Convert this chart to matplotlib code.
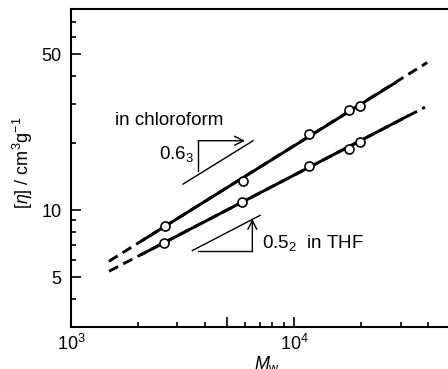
import matplotlib
matplotlib.use("Agg")
import matplotlib.pyplot as plt
from matplotlib.ticker import NullFormatter, FixedLocator, FixedFormatter

plt.rcParams['font.family'] = ['Liberation Sans', 'DejaVu Sans']
plt.rcParams['mathtext.fontset'] = 'custom'
plt.rcParams['mathtext.rm'] = 'Liberation Sans'
plt.rcParams['mathtext.it'] = 'Liberation Sans:italic'

# measured points
mw_chcl3 = [2640, 5890, 11720, 17650, 19710]
eta_chcl3 = [8.47, 13.48, 22.05, 28.25, 29.23]
mw_thf = [2610, 5870, 11720, 17650, 19710]
eta_thf = [7.13, 10.89, 15.73, 18.83, 20.16]

# fitted lines (solid over data, dashed extrapolation)
fit_chcl3_x = [2080, 28400]
fit_chcl3_y = [7.3, 37.3]
fit_thf_x = [2090, 32400]
fit_thf_y = [6.36, 26.5]
ext_chcl3_x = [1480, 39500]
ext_chcl3_y = [5.90, 46.0]
ext_thf_x = [1480, 38600]
ext_thf_y = [5.32, 29.0]

fig = plt.figure(figsize=(4.48, 3.69), dpi=100)
ax = fig.add_axes([71 / 448, 42.3 / 369, 379 / 448, 317.7 / 369])
ax.set_xscale('log')
ax.set_yscale('log')

lw = 2.1
ax.plot(ext_chcl3_x, ext_chcl3_y, color='black', lw=lw, dashes=(3.5, 2))
ax.plot(ext_thf_x, ext_thf_y, color='black', lw=lw, dashes=(3.5, 2))
ax.plot(fit_chcl3_x, fit_chcl3_y, color='black', lw=lw)
ax.plot(fit_thf_x, fit_thf_y, color='black', lw=lw)
ax.plot(mw_chcl3, eta_chcl3, 'o', ms=6.5, mfc='white', mec='black', mew=1.2, zorder=5)
ax.plot(mw_thf, eta_thf, 'o', ms=6.5, mfc='white', mec='black', mew=1.2, zorder=5)

# slope triangles
tl = 1.0
ax.plot([3180, 6550], [13.1, 20.5], color='black', lw=tl)
ax.plot([3710, 3710], [15.0, 20.5], color='black', lw=tl)
ax.annotate('', xy=(6030, 20.5), xytext=(3710, 20.5),
            arrowprops=dict(arrowstyle='->', lw=tl, color='black',
                            shrinkA=0, shrinkB=0, mutation_scale=16))
ax.plot([3500, 7040], [6.59, 9.48], color='black', lw=tl)
ax.plot([3720, 6500], [6.59, 6.59], color='black', lw=tl)
ax.annotate('', xy=(6500, 9.14), xytext=(6500, 6.59),
            arrowprops=dict(arrowstyle='->', lw=tl, color='black',
                            shrinkA=0, shrinkB=0, mutation_scale=16))

fs = 13.5
ax.text(1574, 24.2, 'in chloroform', fontsize=fs, ha='left', va='baseline')
ax.text(3562, 16.98, '0.6$_3$', fontsize=fs, ha='right', va='baseline')
ax.text(7160, 6.77, '0.5$_2$  in THF', fontsize=fs, ha='left', va='baseline')

ax.set_xlim(1e3, 5e4)
ax.set_ylim(3, 80)

ax.xaxis.set_major_locator(FixedLocator([1e3, 5e3, 1e4]))
ax.xaxis.set_major_formatter(FixedFormatter(['10$^3$', '', '10$^4$']))
ax.xaxis.set_minor_locator(FixedLocator([2e3, 3e3, 4e3, 6e3, 7e3, 8e3, 9e3, 2e4, 3e4, 4e4]))
ax.xaxis.set_minor_formatter(NullFormatter())
ax.yaxis.set_major_locator(FixedLocator([5, 10, 50]))
ax.yaxis.set_major_formatter(FixedFormatter(['5', '10', '50']))
ax.yaxis.set_minor_locator(FixedLocator([4, 6, 7, 8, 9, 20, 30, 40, 60, 70]))
ax.yaxis.set_minor_formatter(NullFormatter())

ax.tick_params(which='both', direction='in', top=False, right=False, width=1.2,
               labelsize=13, color='black')
ax.tick_params(which='major', length=7)
ax.tick_params(which='minor', length=3.6)
ax.tick_params(axis='y', which='major', pad=7)
ax.tick_params(axis='x', which='major', pad=5)
for s in ax.spines.values():
    s.set_linewidth(1.5)

ax.set_xlabel('$M_{\\mathrm{w}}$', fontsize=13)
ax.xaxis.set_label_coords(0.518, -0.085)
ax.set_ylabel('[$\\eta$] / cm$^3$g$^{-1}$', fontsize=13)
ax.yaxis.set_label_coords(-0.095, 0.515)

fig.savefig('out.png', dpi=100)
